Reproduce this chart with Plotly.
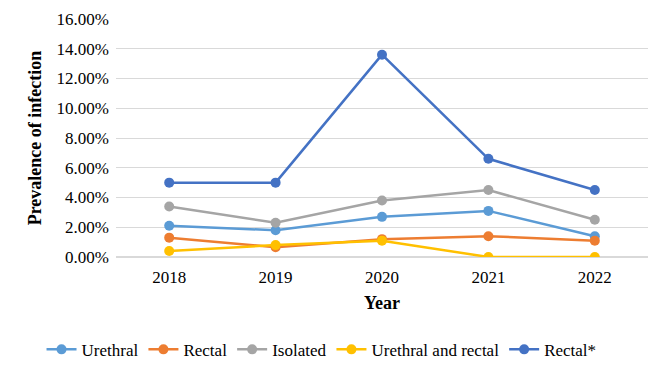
import plotly.graph_objects as go

years = ["2018", "2019", "2020", "2021", "2022"]
urethral = [2.1, 1.8, 2.7, 3.1, 1.4]
rectal = [1.3, 0.65, 1.2, 1.4, 1.1]
isolated = [3.4, 2.3, 3.8, 4.5, 2.5]
ureth_rectal = [0.4, 0.8, 1.1, 0.0, 0.0]
rectal_star = [5.0, 5.0, 13.6, 6.6, 4.5]

series = [
    ("Urethral", urethral, "#5B9BD5"),
    ("Rectal", rectal, "#ED7D31"),
    ("Isolated", isolated, "#A5A5A5"),
    ("Urethral and rectal", ureth_rectal, "#FFC000"),
    ("Rectal*", rectal_star, "#4472C4"),
]

fig = go.Figure()
for name, vals, col in series:
    fig.add_trace(go.Scatter(
        x=years, y=[v / 100 for v in vals], name=name, mode="lines+markers",
        line=dict(color=col, width=2.5), marker=dict(color=col, size=10),
    ))

font = "'Liberation Serif', 'Times New Roman', serif"
fig.update_layout(
    width=661, height=368,
    margin=dict(l=108, r=21, t=11, b=119, autoexpand=False),
    paper_bgcolor="white", plot_bgcolor="white",
    font=dict(family=font, size=17, color="#000"),
    showlegend=True,
    legend=dict(orientation="h", x=-0.14, xanchor="left",
                y=-0.39, yanchor="middle", itemwidth=30,
                font=dict(size=17, family=font, color="#000"), traceorder="normal"),
    xaxis=dict(type="category", range=[-0.5, 4.5], showgrid=False, showline=False,
               ticks="", tickfont=dict(size=17, family=font), automargin=False,
               ticklabelstandoff=8,
               title=dict(text="<b>Year</b>", font=dict(size=18, family=font), standoff=10)),
    yaxis=dict(range=[0, 0.16], dtick=0.02, tickformat=".2%", showgrid=True,
               gridcolor="#D9D9D9", gridwidth=1, zeroline=True, zerolinecolor="#D9D9D9",
               showline=False, ticks="", tickfont=dict(size=17, family=font), automargin=False,
               ticklabelstandoff=6,
               title=dict(text="<b>Prevalence of infection</b>", font=dict(size=18, family=font), standoff=10)),
)

fig.write_html("out.html")
